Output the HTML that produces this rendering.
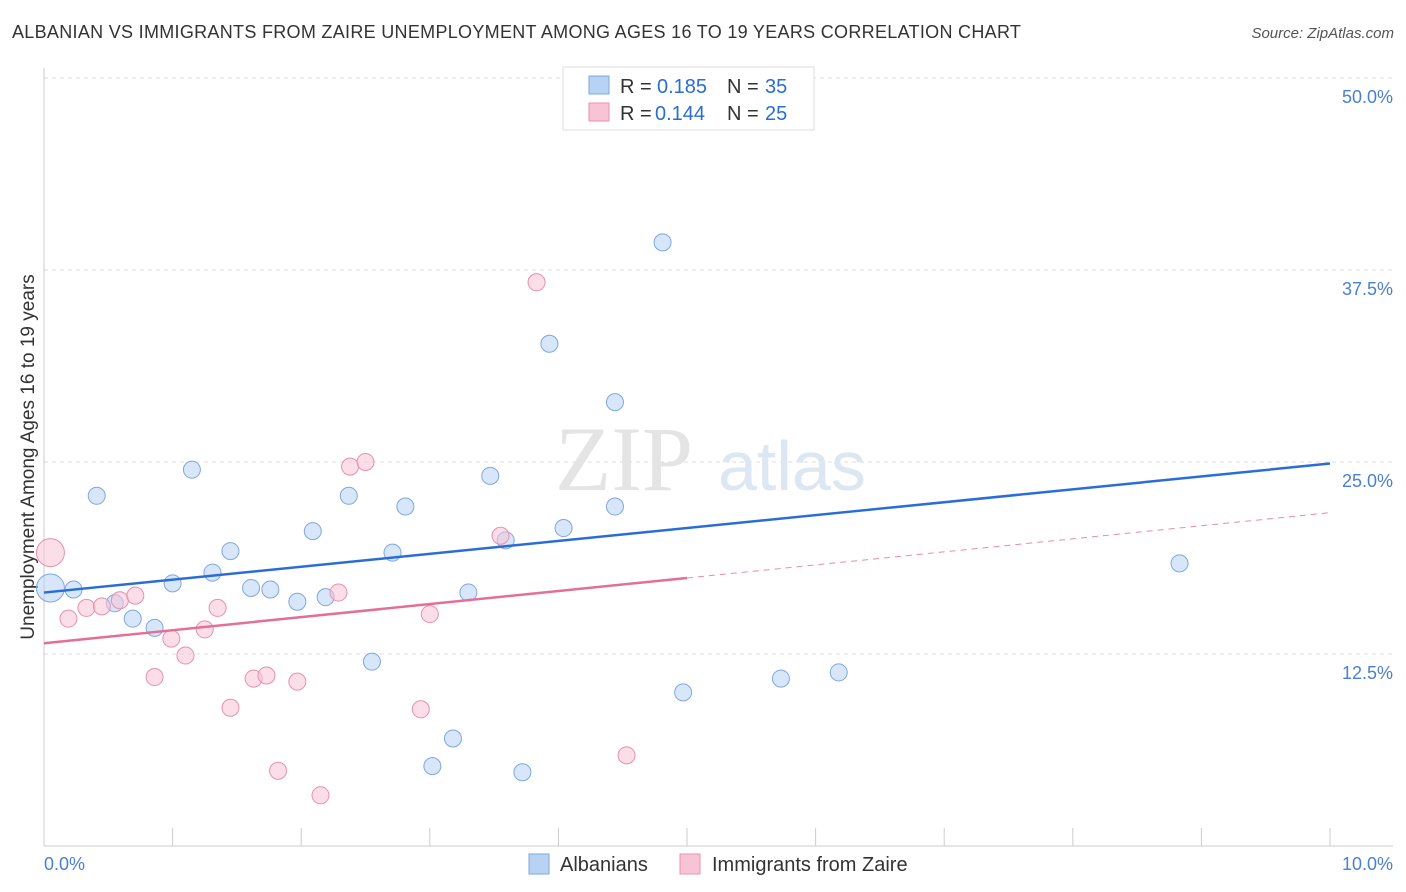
<!DOCTYPE html>
<html><head><meta charset="utf-8">
<style>
body{margin:0;background:#fff;font-family:"Liberation Sans",sans-serif;}
#wrap{position:relative;width:1406px;height:892px;overflow:hidden}
.t{position:absolute;white-space:nowrap}
</style></head><body>
<div id="wrap">
<div class="t" style="left:12px;top:22px;font-size:18px;letter-spacing:0.3px;color:#333">ALBANIAN VS IMMIGRANTS FROM ZAIRE UNEMPLOYMENT AMONG AGES 16 TO 19 YEARS CORRELATION CHART</div>
<div class="t" style="right:12px;top:25px;font-size:15px;color:#555;font-style:italic">Source: ZipAtlas.com</div>
<svg id="svg" width="1406" height="892" style="position:absolute;left:0;top:0"></svg>
</div>
<script>
const blueX=[0.05,0.23,0.41,0.55,0.69,0.86,1.0,1.15,1.31,1.45,1.61,1.76,1.97,2.09,2.19,2.37,2.55,2.71,2.81,3.02,3.18,3.30,3.47,3.59,3.72,3.93,4.04,4.44,4.44,4.81,4.97,5.73,5.86,6.18,8.83];
const blueY=[16.8,16.7,22.8,15.8,14.8,14.2,17.1,24.5,17.8,19.2,16.8,16.7,15.9,20.5,16.2,22.8,12.0,19.1,22.1,5.2,7.0,16.5,24.1,19.9,4.8,32.7,20.7,28.9,22.1,39.3,10.0,10.9,49.9,11.3,18.4];
const pinkX=[0.05,0.19,0.33,0.45,0.59,0.71,0.86,0.99,1.10,1.25,1.35,1.45,1.63,1.73,1.82,1.97,2.15,2.29,2.38,2.50,2.93,3.0,3.55,3.83,4.53];
const pinkY=[19.1,14.8,15.5,15.6,16.0,16.3,11.0,13.5,12.4,14.1,15.5,9.0,10.9,11.1,4.9,10.7,3.3,16.5,24.7,25.0,8.9,15.1,20.2,36.7,5.9];
const yTicks=[12.5,25.0,37.5,50.0];
const yTickLabels=["12.5%","25.0%","37.5%","50.0%"];
const blueTrend=[16.5,24.9];
const pinkTrend=[13.2,21.7];
const pinkSolidEnd=5.0;
const X=v=>44+v*128.6, Y=v=>846-v*15.36;
const svg=document.getElementById('svg');const NS='http://www.w3.org/2000/svg';
function mk(tag,attrs,name){const e=document.createElementNS(NS,tag);for(const k in attrs)e.setAttribute(k,attrs[k]);


svg.appendChild(e);return e;}
yTicks.forEach((t,i)=>{mk('line',{x1:44,x2:1393,y1:Y(t),y2:Y(t),stroke:'#ddd','stroke-dasharray':'4,4'},'gridline');
const tx=mk('text',{x:1393,y:Y(t)+25,'text-anchor':'end','font-size':18,fill:'#4a7fd4'},'y-tick-label');tx.textContent=yTickLabels[i];});
mk('line',{x1:44,x2:1393,y1:78,y2:78,stroke:'#ddd','stroke-dasharray':'4,4'},'gridline-top');
mk('line',{x1:44,x2:44,y1:68,y2:846,stroke:'#ccc'},'y-axis');
mk('line',{x1:44,x2:1393,y1:846,y2:846,stroke:'#ccc'},'x-axis');
for(let i=1;i<=10;i++)mk('line',{x1:X(i),x2:X(i),y1:828,y2:846,stroke:'#ccc'},'x-tick');
let tx=mk('text',{x:44,y:870,'font-size':18,fill:'#4a7fd4'},'x-tick-label');tx.textContent='0.0%';
tx=mk('text',{x:1393,y:870,'text-anchor':'end','font-size':18,fill:'#4a7fd4'},'x-tick-label');tx.textContent='10.0%';
tx=mk('text',{x:34,y:457,'text-anchor':'middle','font-size':19,fill:'#333',transform:'rotate(-90 34 457)'},'y-axis-title');tx.textContent='Unemployment Among Ages 16 to 19 years';
tx=mk('text',{x:555,y:490,'font-size':92,fill:'#e4e4e4','font-family':'Liberation Serif'},'watermark');tx.textContent='ZIP';
tx=mk('text',{x:718,y:490,'font-size':70,fill:'#dde6f3'},'watermark');tx.textContent='atlas';
function pts(xs,ys,fill,stroke,name){xs.forEach((x,i)=>{mk('circle',{cx:X(x),cy:Y(ys[i]),r:i==0?14:8.5,fill:fill,stroke:stroke,'stroke-width':1,'fill-opacity':0.55},name);});}
pts(blueX,blueY,'#b8d2f4','#7fa7e0','albanian-point');
pts(pinkX,pinkY,'#f8c3d5','#e890ae','zaire-point');
const ps=pinkTrend[0]+(pinkTrend[1]-pinkTrend[0])*pinkSolidEnd/10;
mk('line',{x1:X(pinkSolidEnd),y1:Y(ps),x2:X(10),y2:Y(pinkTrend[1]),stroke:'#e98aab','stroke-width':1,'stroke-dasharray':'6,5'},'zaire-trend-dashed');
mk('line',{x1:X(0),y1:Y(pinkTrend[0]),x2:X(pinkSolidEnd),y2:Y(ps),stroke:'#e36f98','stroke-width':2.5},'zaire-trend');
mk('line',{x1:X(0),y1:Y(blueTrend[0]),x2:X(10),y2:Y(blueTrend[1]),stroke:'#2a6dd4','stroke-width':2.5},'albanian-trend');
mk('rect',{x:563,y:67,width:251,height:63,fill:'#fff',stroke:'#ddd'},'legend-box');
mk('rect',{x:589,y:76,width:20,height:18,fill:'#b8d2f4',stroke:'#7fa7e0'},'legend-swatch-blue');
mk('rect',{x:589,y:103,width:20,height:18,fill:'#f8c3d5',stroke:'#e890ae'},'legend-swatch-pink');
function lt(x,y,s,c,n){const t=mk('text',{x:x,y:y,'font-size':20,fill:c},n);t.textContent=s;}
lt(620,93,'R = ','#333','legend-r-label');lt(657,93,'0.185','#2a6dd4','legend-r-blue');
lt(727,93,'N = ','#333','legend-n-label');lt(765,93,'35','#2a6dd4','legend-n-blue');
lt(620,120,'R = ','#333','legend-r-label');lt(655,120,'0.144','#2a6dd4','legend-r-pink');
lt(727,120,'N = ','#333','legend-n-label');lt(765,120,'25','#2a6dd4','legend-n-pink');
mk('rect',{x:529,y:854,width:20,height:20,fill:'#b8d2f4',stroke:'#7fa7e0'},'bottom-legend-swatch-blue');
lt(560,871,'Albanians','#333','bottom-legend-albanians');
mk('rect',{x:680,y:854,width:20,height:20,fill:'#f8c3d5',stroke:'#e890ae'},'bottom-legend-swatch-pink');
lt(712,871,'Immigrants from Zaire','#333','bottom-legend-zaire');
</script>
</body></html>
